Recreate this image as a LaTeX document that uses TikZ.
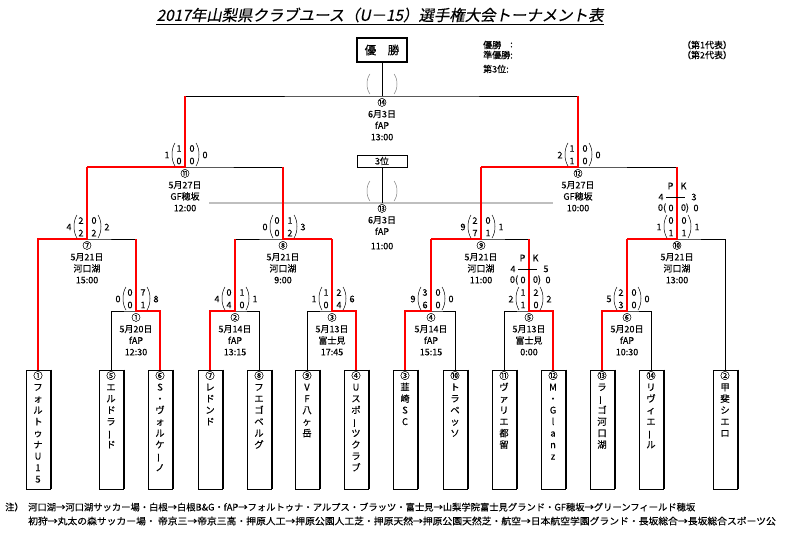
\documentclass[tikz,border=0pt]{standalone}
\usepackage{fontspec}
\setmainfont{Noto Sans CJK JP}[FakeBold=0.35]
\newfontfamily\titlefont[FakeSlant=0.2, FakeBold=0.35]{Noto Sans CJK JP}
\newcommand\vbar{\rotatebox[origin=c]{90}{ー}}
% score: x, y, left total, top left, top right, bottom left, bottom right, right total
\newcommand\scoreset[8]{%
  \node[num] at (#1-18,#2-12) {#3};
  \node[num] at (#1-6,#2-18.5) {#4};
  \node[num] at (#1+7,#2-18.5) {#5};
  \node[num] at (#1-6,#2-6) {#6};
  \node[num] at (#1+7,#2-6) {#7};
  \node[num] at (#1+20,#2-12) {#8};
  \draw[paren] (#1-10,#2-24) .. controls (#1-14,#2-18) and (#1-14,#2-7) .. (#1-10,#2-1);
  \draw[paren] (#1+11,#2-24) .. controls (#1+15,#2-18) and (#1+15,#2-7) .. (#1+11,#2-1);
}
% pk: x, y, pk left, pk right, extra time row
\newcommand\pkset[8]{%
  \node[num] at (#1-6.5,#2-53) {P};
  \node[num] at (#1+6.5,#2-53) {K};
  \node[num] at (#1-16,#2-42) {#3};
  \draw (#1-11,#2-42) -- (#1+8,#2-42);
  \node[num] at (#1+17,#2-42) {#4};
  \node[num] at (#1-15,#2-31) {#5(};
  \node[num] at (#1-6,#2-31) {#6};
  \node[num] at (#1+8,#2-31) {#7)};
  \node[num] at (#1+19,#2-31) {#8};
}
\begin{document}
\begin{tikzpicture}[x=1pt, y=-1pt,
    line/.style={line width=.8pt},
    win/.style={red, line width=2pt},
    paren/.style={line width=.5pt},
    num/.style={inner sep=0, font=\fontsize{9}{10}\selectfont},
    info/.style={inner sep=0, anchor=north, align=center, font=\fontsize{9}{11.5}\selectfont},
    teambox/.style={draw, line width=.9pt, minimum width=24pt, minimum height=119pt, inner sep=0},
    teamname/.style={inner sep=0, anchor=north, align=center, font=\fontsize{9.3}{11.5}\selectfont},
    note/.style={inner sep=0, anchor=west, font=\fontsize{9.3}{11}\selectfont}]
\useasboundingbox (0,0) rectangle (787,557);

% title
\node[inner sep=0, font=\titlefont\fontsize{15.4}{16}\selectfont] (title) at (380,15)
  {2017年山梨県クラブユース（U－15）選手権大会トーナメント表};
\draw ([yshift=-1.5pt]title.south west) -- ([yshift=-1.5pt]title.south east);

% champion and third place
\node[draw, line width=2pt, minimum width=50pt, minimum height=24pt, inner sep=0,
  font=\fontsize{11.5}{12}\selectfont] (champ) at (382,50) {優\quad 勝};
\node[draw, line width=.8pt, minimum width=50pt, minimum height=12pt, inner sep=0,
  font=\fontsize{9}{10}\selectfont] (third) at (382,161) {3位};
\node[num, anchor=west] at (483,45) {優勝};
\node[num, anchor=west] at (510,45) {:};
\node[num, anchor=west] at (483,55) {準優勝:};
\node[num, anchor=west] at (483,69) {第3位:};
\node[num] at (707,45) {（第1代表）};
\node[num] at (707,55) {（第2代表）};

% teams
\foreach \x/\n/\lbl in {38/1/{①\\フ\\ォ\\ル\\ト\\ゥ\\ナ\\U\\1\\5},
    111/5/{⑤\\エ\\ル\\ド\\ラ\\\vbar\\ド},
    160/6/{⑥\\S\\・\\ヴ\\ォ\\ル\\ケ\\\vbar\\ノ},
    210/7/{⑦\\レ\\ド\\ン\\ド},
    259/8/{⑧\\フ\\エ\\ゴ\\ベ\\ル\\グ},
    307/9/{⑨\\V\\F\\八\\ヶ\\岳},
    356/4/{④\\U\\ス\\ポ\\\vbar\\ツ\\ク\\ラ\\ブ},
    405/3/{③\\韮\\崎\\S\\C},
    455/10/{⑩\\ト\\ラ\\ベ\\ッ\\ソ},
    504/11/{⑪\\ヴ\\ァ\\リ\\エ\\都\\留},
    553/12/{⑫\\M\\・\\G\\l\\a\\n\\z},
    602/13/{⑬\\ラ\\\vbar\\ゴ\\河\\口\\湖},
    651/14/{⑭\\リ\\ヴ\\ィ\\エ\\\vbar\\ル},
    725/2/{②\\甲\\斐\\シ\\エ\\ロ}}
{
  \node[teambox] (t\n) at (\x,429.5) {};
  \draw[line width=.9pt] ([xshift=1pt]t\n.north east) -- ([xshift=1pt]t\n.south east);
  \node[teamname] at (\x,371) {\lbl};
}

% matches
\coordinate (m1) at (136,311);
\coordinate (m2) at (235,311);
\coordinate (m3) at (332,311);
\coordinate (m4) at (431,311);
\coordinate (m5) at (529,311);
\coordinate (m6) at (627,311);
\coordinate (m7) at (87,239);
\coordinate (m8) at (283,239);
\coordinate (m9) at (481,239);
\coordinate (m10) at (677,239);
\coordinate (m11) at (185,167);
\coordinate (m12) at (578,167);
\coordinate (m13) at (382,203);
\coordinate (m14) at (382,96);

\draw[gray!50, line width=2pt] (209,203) -- (553,203);

\draw[line] (t5.north) |- (m1) -| (t6.north);
\draw[line] (t7.north) |- (m2) -| (t8.north);
\draw[line] (t9.north) |- (m3) -| (t4.north);
\draw[line] (t3.north) |- (m4) -| (t10.north);
\draw[line] (t11.north) |- (m5) -| (t12.north);
\draw[line] (t13.north) |- (m6) -| (t14.north);
\draw[line] (t1.north) |- (m7) -| (m1);
\draw[line] (m2) |- (m8) -| (m3);
\draw[line] (m4) |- (m9) -| (m5);
\draw[line] (m6) |- (m10) -| (t2.north);
\draw[line] (m7) |- (m11) -| (m8);
\draw[line] (m9) |- (m12) -| (m10);
\draw[line] (m11) |- (m14) -| (m12);
\draw[line] (champ) -- (m14);
\draw[line] (third) -- (m13);

\draw[win] (t6.north) |- (m1) -- (m1 |- m7);
\draw[win] (t7.north) |- (m2) -- (m2 |- m8);
\draw[win] (t4.north) |- (m3) -- (m3 |- m8);
\draw[win] (t3.north) |- (m4) -- (m4 |- m9);
\draw[win] (t12.north) |- (m5) -- (m5 |- m9);
\draw[win] (t13.north) |- (m6) -- (m6 |- m10);
\draw[win] (t1.north) |- (m7) -- (m7 |- m11);
\draw[win] (m3 |- m8) -- (m8) -- (m8 |- m11);
\draw[win] (m4 |- m9) -- (m9) -- (m9 |- m12);
\draw[win] (m6 |- m10) -- (m10) -- (m10 |- m12);
\draw[win] (m7 |- m11) -- (m11) -- (m11 |- m14);
\draw[win] (m9 |- m12) -- (m12) -- (m12 |- m14);

% dates and venues
\node[info] at (136,313) {①\\5月20日\\fAP\\12:30};
\node[info] at (235,313) {②\\5月14日\\fAP\\13:15};
\node[info] at (332,313) {③\\5月13日\\富士見\\17:45};
\node[info] at (431,313) {④\\5月14日\\fAP\\15:15};
\node[info] at (529,313) {⑤\\5月13日\\富士見\\0:00};
\node[info] at (627,313) {⑥\\5月20日\\fAP\\10:30};
\node[info] at (87,241) {⑦\\5月21日\\河口湖\\15:00};
\node[info] at (283,241) {⑧\\5月21日\\河口湖\\9:00};
\node[info] at (481,241) {⑨\\5月21日\\河口湖\\11:00};
\node[info] at (677,241) {⑩\\5月21日\\河口湖\\13:00};
\node[info] at (185,169) {⑪\\5月27日\\GF穂坂\\12:00};
\node[info] at (578,169) {⑫\\5月27日\\GF穂坂\\10:00};
\node[info] at (382,204) {⑬\\6月3日\\fAP\\[3pt]11:00};
\node[info] at (382,98) {⑭\\6月3日\\fAP\\13:00};

% scores
\scoreset{136}{311}{0}{0}{7}{0}{1}{8}
\scoreset{235}{311}{4}{0}{1}{4}{0}{1}
\scoreset{332}{311}{1}{1}{2}{0}{4}{6}
\scoreset{431}{311}{9}{3}{0}{6}{0}{0}
\scoreset{529}{311}{2}{1}{2}{1}{0}{2}
\scoreset{627}{311}{5}{2}{0}{3}{0}{0}
\scoreset{87}{239}{4}{2}{0}{2}{2}{2}
\scoreset{283}{239}{0}{0}{1}{0}{2}{3}
\scoreset{481}{239}{9}{2}{0}{7}{1}{1}
\scoreset{677}{239}{1}{0}{0}{1}{1}{1}
\scoreset{185}{167}{1}{1}{0}{0}{0}{0}
\scoreset{578}{167}{2}{1}{0}{1}{0}{0}
\pkset{529}{311}{4}{5}{0}{0}{0}{0}
\pkset{677}{239}{4}{3}{0}{0}{0}{0}
\foreach \y in {96,203}
{
  \draw[paren, gray] (370,\y-22) .. controls (366,\y-17) and (366,\y-7) .. (370,\y-2);
  \draw[paren, gray] (394,\y-22) .. controls (398,\y-17) and (398,\y-7) .. (394,\y-2);
}

% notes
\node[note] at (5,507) {注）};
\node[note] at (28,507) {河口湖→河口湖サッカー場・白根→白根B\&G・fAP→フォルトゥナ・アルプス・ブラッツ・富士見→山梨学院富士見グランド・GF穂坂→グリーンフィールド穂坂};
\node[note] at (28,521) {\scalebox{1.055}[1]{初狩→丸太の森サッカー場・ 帝京三→帝京三高・押原人工→押原公園人工芝・押原天然→押原公園天然芝・航空→日本航空学園グランド・長坂総合→長坂総合スポーツ公}};
\end{tikzpicture}
\end{document}
